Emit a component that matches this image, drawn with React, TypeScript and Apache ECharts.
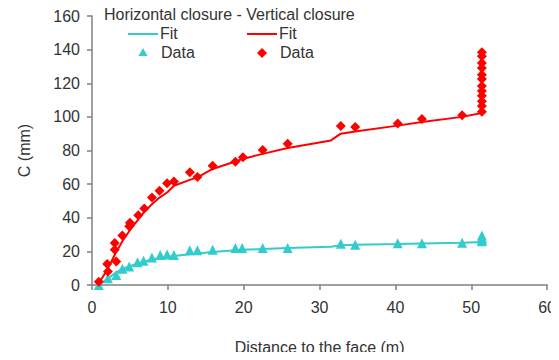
import React, { useEffect, useRef } from "react";
import * as echarts from "echarts";

// Horizontal closure: measured points
const hDataX = [0.9, 2.1, 3.2, 4.0, 4.9, 6.0, 6.8, 7.9, 9.0, 9.9, 10.8, 12.9, 13.9, 15.9, 18.9, 19.8, 22.5, 25.8, 32.8, 34.7, 40.3, 43.5, 48.8, 51.4, 51.4, 51.4, 51.4];
const hDataY = [0, 4, 6, 9.7, 11, 13.5, 14.4, 16.3, 17.8, 18.2, 17.8, 20.7, 20.7, 21, 22, 22, 22, 22, 24.5, 24, 24.9, 24.9, 25.2, 26, 27, 28, 29.5];

// Horizontal closure: fitted curve
const hFitX = [0.9, 2.1, 3.2, 4.0, 4.9, 6.0, 6.8, 7.9, 9.0, 9.9, 10.8, 12.9, 13.9, 15.9, 18.9, 19.8, 22.5, 25.8, 31.5, 32.8, 34.7, 40.3, 43.5, 48.8, 51.4];
const hFitY = [0, 4, 7.5, 9.5, 11, 12.8, 13.8, 15, 16, 16.8, 17.3, 18.3, 18.8, 19.6, 20.6, 20.9, 21.4, 22, 22.8, 23.6, 23.9, 24.4, 24.7, 25.2, 25.6];

// Vertical closure: measured points
const vDataX = [0.9, 2.0, 2.1, 3.0, 3.0, 3.2, 4.0, 4.9, 5.0, 6.1, 6.9, 7.9, 8.9, 9.9, 10.8, 12.9, 13.9, 15.9, 18.9, 19.9, 22.5, 25.8, 32.8, 34.7, 40.3, 43.5, 48.8, 51.4, 51.4, 51.4, 51.4, 51.4, 51.4, 51.4, 51.4, 51.4, 51.4, 51.4, 51.4];
const vDataY = [2, 12.5, 8, 25, 21, 14, 29.5, 35, 37, 41.5, 45.5, 52, 56, 60.5, 61.5, 67, 64.3, 71, 73.3, 76, 80.3, 84, 94.5, 94, 96, 98.8, 101, 103, 106.5, 109.3, 112.6, 115.4, 118.3, 122.6, 125, 129, 132, 136, 138.4];

// Vertical closure: fitted curve
const vFitX = [0.9, 2.0, 3.0, 4.0, 4.9, 6.1, 6.9, 7.9, 8.9, 9.9, 10.8, 12.9, 13.9, 15.9, 18.9, 19.9, 22.5, 25.8, 31.5, 32.8, 34.7, 40.3, 43.5, 48.8, 51.4];
const vFitY = [1, 9, 18, 26, 32, 39, 43.5, 48, 52, 55, 59, 62.5, 64, 69, 73.5, 75, 78, 81.5, 86, 90, 91.3, 94.8, 97, 100, 102.3];

const xTicks = [0, 10, 20, 30, 40, 50, 60];
const yTicks = [0, 20, 40, 60, 80, 100, 120, 140, 160];

const CYAN = "#33cccc";
const RED = "#ff0000";
const TEXT = "#333333";
const AXIS = "#808080";
const FONT = "'Liberation Sans', Arial, sans-serif";
const FS = 16;

const pairs = (xs: number[], ys: number[]) => xs.map((x, i) => [x, ys[i]]);

export default function App() {
  const ref = useRef<HTMLDivElement>(null);

  useEffect(() => {
    if (!ref.current) return;
    const chart = echarts.init(ref.current, undefined, { renderer: "svg" });
    const label = (x: number, y: number, text: string) => ({
      type: "text",
      left: x,
      top: y,
      style: { text, fill: TEXT, font: `${FS}px ${FONT}` },
    });
    chart.setOption({
      animation: false,
      textStyle: { fontFamily: FONT },
      grid: { left: 92, right: 2, top: 16, bottom: 63, containLabel: false },
      xAxis: {
        type: "value",
        min: xTicks[0],
        max: xTicks[xTicks.length - 1],
        interval: 10,
        name: "Distance to the face (m)",
        nameLocation: "middle",
        nameGap: 54,
        nameTextStyle: { color: TEXT, fontSize: FS, fontFamily: FONT },
        axisLine: { show: true, onZero: false, lineStyle: { color: AXIS, width: 1.5 } },
        axisTick: { show: true, length: 5, lineStyle: { color: AXIS, width: 1.5 } },
        axisLabel: { color: TEXT, fontSize: FS, margin: 14, fontFamily: FONT, showMaxLabel: true },
        splitLine: { show: false },
      },
      yAxis: {
        type: "value",
        min: yTicks[0],
        max: yTicks[yTicks.length - 1],
        interval: 20,
        name: "C (mm)",
        nameLocation: "middle",
        nameGap: 60,
        nameTextStyle: { color: TEXT, fontSize: FS, fontFamily: FONT },
        axisLine: { show: true, lineStyle: { color: AXIS, width: 1.5 } },
        axisTick: { show: true, length: 5, lineStyle: { color: AXIS, width: 1.5 } },
        axisLabel: { color: TEXT, fontSize: FS, margin: 12, fontFamily: FONT },
        splitLine: { show: false },
      },
      series: [
        {
          name: "Horizontal Fit",
          type: "line",
          data: pairs(hFitX, hFitY),
          showSymbol: false,
          symbol: "none",
          lineStyle: { color: CYAN, width: 2 },
          z: 2,
        },
        {
          name: "Vertical Fit",
          type: "line",
          data: pairs(vFitX, vFitY),
          showSymbol: false,
          symbol: "none",
          lineStyle: { color: RED, width: 2 },
          z: 2,
        },
        {
          name: "Horizontal Data",
          type: "scatter",
          data: pairs(hDataX, hDataY),
          symbol: "triangle",
          symbolSize: 10,
          itemStyle: { color: CYAN, opacity: 1 },
          z: 3,
        },
        {
          name: "Vertical Data",
          type: "scatter",
          data: pairs(vDataX, vDataY),
          symbol: "diamond",
          symbolSize: 10,
          itemStyle: { color: RED, opacity: 1 },
          z: 4,
        },
      ],
      graphic: [
        label(104, 6, "Horizontal closure - Vertical closure"),
        { type: "line", shape: { x1: 128, y1: 34, x2: 158, y2: 34 }, style: { stroke: CYAN, lineWidth: 2 } },
        label(160, 25, "Fit"),
        { type: "line", shape: { x1: 247, y1: 34, x2: 277, y2: 34 }, style: { stroke: RED, lineWidth: 2 } },
        label(279, 25, "Fit"),
        { type: "polygon", shape: { points: [[143, 48], [147.5, 56], [138.5, 56]] }, style: { fill: CYAN } },
        label(161, 44, "Data"),
        { type: "polygon", shape: { points: [[262, 48], [267, 53], [262, 58], [257, 53]] }, style: { fill: RED } },
        label(280, 44, "Data"),
      ],
    });
    return () => chart.dispose();
  }, []);

  return <div ref={ref} style={{ width: 559, height: 360, margin: -8 }} />;
}
